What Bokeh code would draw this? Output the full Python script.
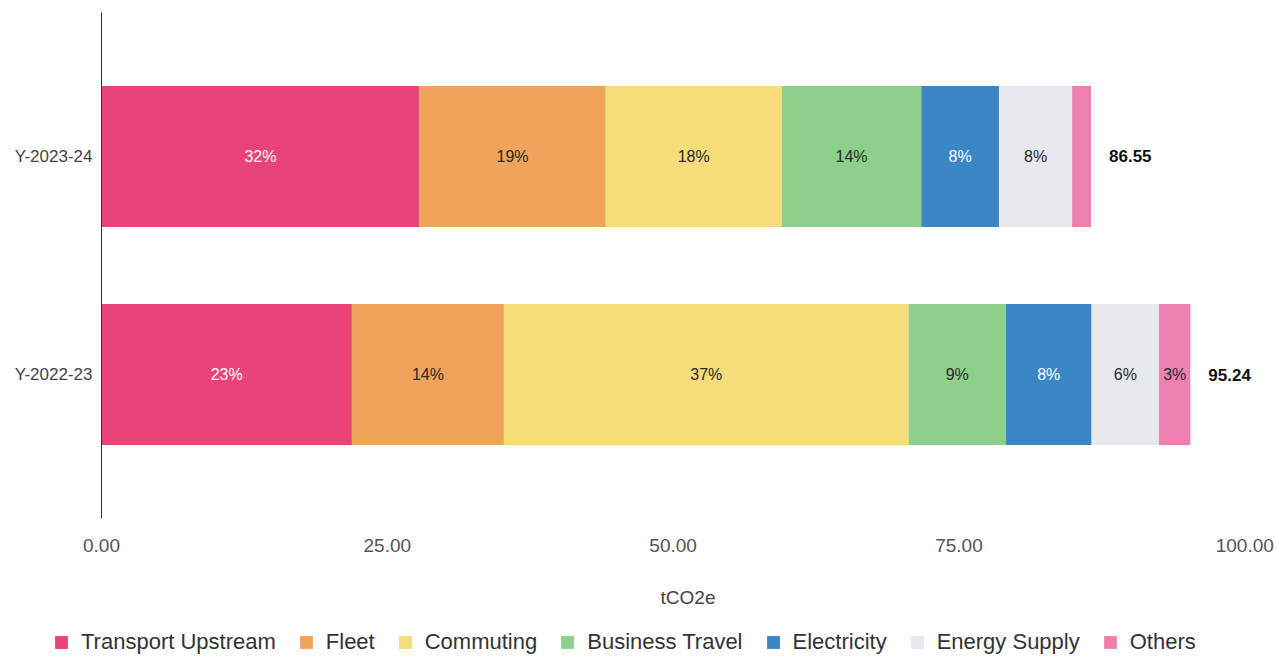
from bokeh.plotting import figure
from bokeh.layouts import column, row
from bokeh.models import (ColumnDataSource, FactorRange, Legend, LegendItem,
                          NumeralTickFormatter, FixedTicker, Range1d)
from bokeh.core.properties import value
from bokeh.embed import file_html
from bokeh.resources import INLINE

# ---- data ----
years = ["Y-2022-23", "Y-2023-24"]
series = ["Transport Upstream", "Fleet", "Commuting", "Business Travel",
          "Electricity", "Energy Supply", "Others"]
transport_upstream = [21.9, 27.8]
fleet = [13.3, 16.3]
commuting = [35.4, 15.4]
business_travel = [8.5, 12.2]
electricity = [7.5, 6.8]
energy_supply = [5.9, 6.4]
others = [2.74, 1.65]
totals = [95.24, 86.55]
pct_2022_23 = ["23%", "14%", "37%", "9%", "8%", "6%", "3%"]
pct_2023_24 = ["32%", "19%", "18%", "14%", "8%", "8%", ""]
x_ticks = [0, 25, 50, 75, 100]

colors = ["#EA4377", "#F0A35A", "#F6DC7A", "#8DD08B", "#3B86C6", "#E7E7EE", "#EE80B0"]
label_colors = ["#FFFFFF", "#2a2a2a", "#2a2a2a", "#2a2a2a", "#FFFFFF", "#2a2a2a", "#2a2a2a"]

FONT = "Liberation Sans"

data = {"year": years}
values = [transport_upstream, fleet, commuting, business_travel,
          electricity, energy_supply, others]
for name, vals in zip(series, values):
    data[name] = vals
source = ColumnDataSource(data)

p = figure(y_range=FactorRange(factors=years, range_padding=0.16),
           x_range=Range1d(0, 102.6),
           width=1276, height=620,
           min_border_left=101, min_border_right=2, min_border_top=12,
           min_border_bottom=102,
           output_backend="svg", toolbar_location=None,
           background_fill_color="white", border_fill_color="white",
           outline_line_color=None)

renderers = p.hbar_stack(series, y="year", height=0.647, color=colors,
                         line_color=None, source=source)

# percentage labels
pcts = [pct_2022_23, pct_2023_24]
lx, ly, lt, lc = [], [], [], []
for yi, yr in enumerate(years):
    cum = 0.0
    for si, vals in enumerate(values):
        v = vals[yi]
        if pcts[yi][si]:
            lx.append(cum + v / 2)
            ly.append(yr)
            lt.append(pcts[yi][si])
            lc.append(label_colors[si])
        cum += v
lsrc = ColumnDataSource(dict(x=lx, y=ly, t=lt, c=lc))
p.text(x="x", y="y", text="t", source=lsrc, text_color="c",
       text_align="center", text_baseline="middle",
       text_font=value(FONT), text_font_size="16px")

tsrc = ColumnDataSource(dict(x=totals, y=years, t=["%.2f" % t for t in totals]))
p.text(x="x", y="y", text="t", source=tsrc, x_offset=18,
       text_align="left", text_baseline="middle",
       text_font=value(FONT), text_font_size="17px", text_font_style="bold",
       text_color="#111111")

# axes
p.grid.visible = False
xa = p.xaxis[0]
xa.ticker = FixedTicker(ticks=x_ticks)
xa.formatter = NumeralTickFormatter(format="0.00")
xa.axis_line_color = None
xa.major_tick_line_color = None
xa.minor_tick_line_color = None
xa.major_tick_out = 0
xa.major_label_standoff = 20
xa.major_label_text_font = FONT
xa.major_label_text_font_size = "19px"
xa.major_label_text_color = "#555555"
xa.axis_label = "tCO2e"
xa.axis_label_standoff = 32
xa.axis_label_text_font = FONT
xa.axis_label_text_font_size = "19px"
xa.axis_label_text_font_style = "normal"
xa.axis_label_text_color = "#444444"

ya = p.yaxis[0]
ya.axis_line_color = "#333333"
ya.axis_line_width = 1
ya.major_tick_line_color = None
ya.minor_tick_line_color = None
ya.major_tick_out = 0
ya.major_label_standoff = 9
ya.major_label_text_font = FONT
ya.major_label_text_font_size = "17px"
ya.major_label_text_color = "#444444"

# legend strip (separate figure below the chart); its series renderers are hidden
lg = figure(width=1276, height=36, x_range=Range1d(0, 1),
            y_range=FactorRange(factors=years),
            min_border=0, x_axis_location=None, y_axis_location=None,
            output_backend="svg", toolbar_location=None,
            background_fill_color="white", border_fill_color="white",
            outline_line_color=None)
lg.grid.visible = False
lg_renderers = lg.hbar_stack(series, y="year", height=0.5, color=colors,
                             line_color=None, source=source, visible=False)
items = [LegendItem(label=s, renderers=[r]) for s, r in zip(series, lg_renderers)]
legend = Legend(items=items, orientation="horizontal", location=(53, 1),
                border_line_color=None, background_fill_alpha=0,
                label_text_font=FONT, label_text_font_size="22px",
                label_text_color="#333333",
                glyph_width=16, glyph_height=16, label_standoff=12,
                spacing=22, padding=0, margin=0)
lg.add_layout(legend, "center")

layout = column(p, row(lg), spacing=0)
open("out.html", "w").write(file_html(layout, INLINE))
